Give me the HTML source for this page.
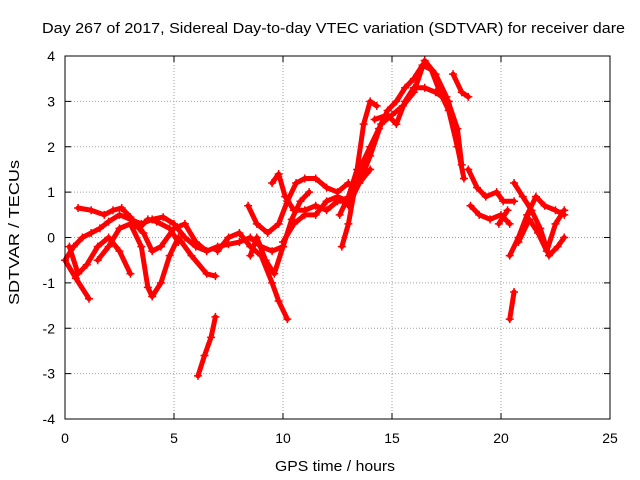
<!DOCTYPE html>
<html><head><meta charset="utf-8"><style>
body{margin:0;background:#fff}
svg{display:block;font-family:"Liberation Sans",sans-serif}
</style></head><body>
<svg id="chart" width="640" height="480">
<text x="42" y="33" textLength="583" lengthAdjust="spacingAndGlyphs" font-size="15">Day 267 of 2017, Sidereal Day-to-day VTEC variation (SDTVAR) for receiver dare</text>
<text x="275" y="471" textLength="120" lengthAdjust="spacingAndGlyphs" font-size="15">GPS time / hours</text>
<text transform="translate(19,305) rotate(-90)" textLength="145" lengthAdjust="spacingAndGlyphs" font-size="15">SDTVAR / TECUs</text>
<g id="grid"></g>
<g id="ticks"></g>
<g id="series"></g>
<rect x="65" y="56" width="545" height="363" fill="none" stroke="#000"/>
</svg>
<script>
const xTicks=[0,5,10,15,20,25];
const yTicks=[-4,-3,-2,-1,0,1,2,3,4];
const tracks=[
[[0,-0.5],[0.4,-0.2],[0.8,0],[1.2,0.1],[1.6,0.2],[2.0,0.35],[2.5,0.5],[3,0.4],[3.5,0.3],[4,0.4],[4.5,0.45],[5,0.3],[5.5,0],[6,-0.2],[6.5,-0.3]],
[[0.6,0.65],[1.2,0.6],[1.8,0.5],[2.2,0.6],[2.6,0.65],[3,0.45],[3.4,0.2],[3.8,0.4],[4.2,0.35],[4.8,0.2],[5.2,-0.1]],
[[0,-0.5],[0.5,-0.9],[1.1,-1.35]],
[[0.2,-0.2],[0.6,-0.8],[1,-0.6],[1.5,-0.2],[2,0],[2.5,-0.3],[3,-0.8]],
[[1.5,-0.5],[2,-0.2],[2.5,0.2],[3,0.3],[3.5,-0.2],[3.8,-1.1],[4.0,-1.3],[4.4,-1],[4.8,-0.4],[5.2,0],[5.8,-0.4],[6.5,-0.8],[6.9,-0.85]],
[[3.2,0.3],[3.6,0.1],[4,-0.3],[4.4,-0.2],[5,0.2],[5.5,0.3],[6,-0.1],[6.5,-0.3],[7,-0.2],[7.5,-0.15],[8,-0.1],[8.5,0],[9,-0.2],[9.5,-0.3],[10,-0.2]],
[[6.1,-3.05],[6.4,-2.6],[6.7,-2.2],[6.9,-1.75]],
[[7,-0.3],[7.5,0],[8,0.1],[8.5,-0.2],[9,-0.4],[9.5,-1.0],[9.8,-1.4],[10.2,-1.8]],
[[8.5,-0.4],[8.8,0],[9.2,-0.5],[9.6,-0.8],[10,-0.2],[10.4,0.4],[10.8,0.8],[11.2,1.0]],
[[8.4,0.7],[8.8,0.3],[9.3,0.1],[9.8,0.3],[10.2,0.8],[10.6,1.2],[11,1.3],[11.5,1.3],[12,1.1],[12.5,1.0],[13,1.2]],
[[9.5,1.2],[9.8,1.4],[10.1,0.9],[10.5,0.6],[11,0.6],[11.5,0.7],[12,0.6],[12.5,0.8],[13,0.8]],
[[10,-0.1],[10.5,0.3],[11,0.5],[11.5,0.5],[12,0.8],[12.5,0.9],[13,0.8],[13.5,1.2],[14,1.5]],
[[12.7,-0.2],[13,0.3],[13.3,1.1],[13.6,1.6],[14,2.0],[14.4,2.4],[14.8,2.8],[15.2,3.0],[15.6,3.3],[16,3.5],[16.4,3.8],[16.8,3.7],[17.2,3.2],[17.6,2.8],[18,2.0],[18.3,1.3]],
[[12.6,0.5],[13,0.9],[13.4,1.5],[13.7,2.5],[14,3.0],[14.3,2.9]],
[[13,0.7],[13.5,1.2],[14,1.8],[14.5,2.5],[15,2.7],[15.5,2.9],[16,3.2],[16.5,3.9],[17,3.6],[17.5,3.1],[18,2.4],[18.2,1.6]],
[[14.2,2.6],[14.8,2.7],[15.2,2.5],[15.6,3.0],[16,3.3],[16.5,3.3],[17,3.2],[17.6,3.0],[18,2.0]],
[[17.8,3.6],[18.2,3.2],[18.5,3.1]],
[[18.5,1.5],[18.9,1.1],[19.3,0.9],[19.8,1.0],[20.1,0.8],[20.6,0.8]],
[[18.6,0.7],[19,0.5],[19.5,0.4],[20,0.5],[20.4,0.3]],
[[20.4,-1.8],[20.6,-1.2]],
[[20.4,-0.4],[20.8,0],[21.2,0.5],[21.6,0.9],[22,0.7],[22.5,0.6],[22.9,0.5]],
[[20.6,1.2],[21,0.9],[21.4,0.6],[21.8,0.2],[22.2,-0.4],[22.6,-0.2],[22.9,0]],
[[20.8,-0.1],[21.3,0.4],[21.7,0.1],[22.1,-0.3],[22.5,0.3],[22.9,0.6]],
[[19.9,0.3],[20.3,0.6]]
];
const NS="http://www.w3.org/2000/svg";
const X=v=>65+v*(545/25);
const Y=v=>237.5-v*(363/8);
const grid=document.getElementById('grid'),ticks=document.getElementById('ticks'),series=document.getElementById('series');
function mk(t,a,p){const e=document.createElementNS(NS,t);for(const k in a)e.setAttribute(k,a[k]);p.appendChild(e);return e;}
xTicks.forEach(t=>{
  if(t>0&&t<25){const g=mk('line',{x1:X(t),x2:X(t),y1:56,y2:419,stroke:'#a0a0a0','stroke-dasharray':'1,2'},grid);
  
  }
  mk('line',{x1:X(t),x2:X(t),y1:419,y2:413,stroke:'#000'},ticks);
  mk('line',{x1:X(t),x2:X(t),y1:56,y2:62,stroke:'#000'},ticks);
  const l=mk('text',{x:X(t),y:443,'text-anchor':'middle','font-size':'14'},ticks);l.textContent=t;
  
  
});
yTicks.forEach(t=>{
  if(t>-4&&t<4){const g=mk('line',{x1:65,x2:610,y1:Y(t),y2:Y(t),stroke:'#a0a0a0','stroke-dasharray':'1,2'},grid);
  
  }
  mk('line',{x1:65,x2:71,y1:Y(t),y2:Y(t),stroke:'#000'},ticks);
  mk('line',{x1:604,x2:610,y1:Y(t),y2:Y(t),stroke:'#000'},ticks);
  const l=mk('text',{x:55,y:Y(t)+5,'text-anchor':'end','font-size':'14'},ticks);l.textContent=t;
  
  
});
tracks.forEach(tr=>{
  const pl=mk('polyline',{points:tr.map(p=>X(p[0])+','+Y(p[1])).join(' '),fill:'none',stroke:'#ff0000','stroke-width':5,'stroke-linejoin':'round','stroke-linecap':'round'},series);
  
  
  tr.forEach(p=>{
    const m=mk('path',{d:`M${X(p[0])-4},${Y(p[1])}h8M${X(p[0])},${Y(p[1])-4}v8`,stroke:'#ff0000','stroke-width':1.5},series);
    
    
  });
});
</script>
</body></html>
